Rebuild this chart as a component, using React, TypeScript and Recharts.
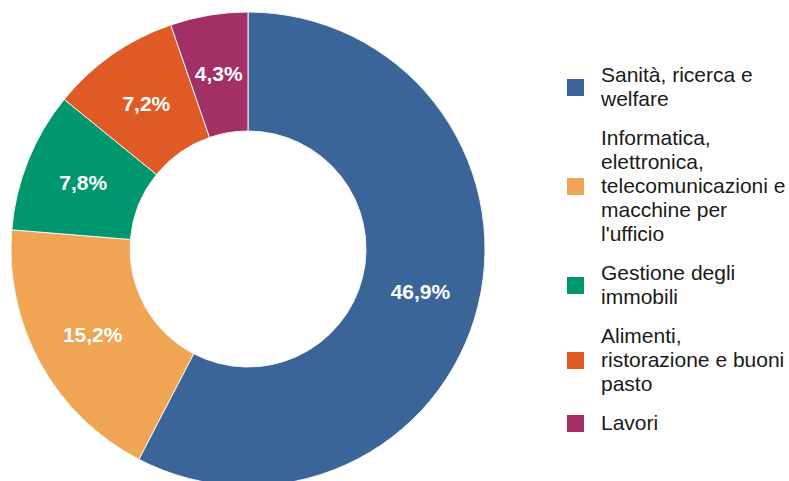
import React from "react";
import { PieChart, Pie, Cell, Legend } from "recharts";

const categories = [
  "Sanità, ricerca e welfare",
  "Informatica, elettronica, telecomunicazioni e macchine per l'ufficio",
  "Gestione degli immobili",
  "Alimenti, ristorazione e buoni pasto",
  "Lavori",
];
const values = [46.9, 15.2, 7.8, 7.2, 4.3];
const colors = ["#3b6598", "#efa553", "#00976f", "#df5a24", "#a22f66"];

const data = categories.map((name, i) => ({ name, value: values[i] }));

const RADIAN = Math.PI / 180;
const FONT = "'Liberation Sans', Arial, sans-serif";

const renderLabel = (props: any) => {
  const { cx, cy, midAngle, innerRadius, outerRadius, value } = props;
  const r = (innerRadius + outerRadius) / 2;
  const x = cx + r * Math.cos(-midAngle * RADIAN);
  const y = cy + r * Math.sin(-midAngle * RADIAN);
  return (
    <text
      x={x}
      y={y}
      fill="#ffffff"
      textAnchor="middle"
      dominantBaseline="central"
      fontSize={21}
      fontWeight="bold"
      fontFamily={FONT}
    >
      {value.toFixed(1).replace(".", ",")}%
    </text>
  );
};

const renderLegend = () => (
  <div style={{ fontFamily: FONT, fontSize: 21, color: "#1a1a1a" }}>
    {data.map((d, i) => (
      <div key={d.name} style={{ display: "flex", alignItems: "center", marginBottom: 15 }}>
        <div style={{ width: 17, height: 17, background: colors[i], flexShrink: 0, marginRight: 17 }} />
        <div style={{ width: 188, lineHeight: "24px" }}>{d.name}</div>
      </div>
    ))}
  </div>
);

export default function App() {
  return (
    <div style={{ position: "absolute", left: 0, top: 0 }}>
      <PieChart width={789} height={481} margin={{ top: 0, right: 0, bottom: 0, left: 0 }}>
        <Pie
          data={data}
          dataKey="value"
          nameKey="name"
          cx={248}
          cy={249}
          innerRadius={118}
          outerRadius={237}
          startAngle={90}
          endAngle={-270}
          stroke="#f4f4f4"
          strokeWidth={1}
          label={renderLabel}
          labelLine={false}
          isAnimationActive={false}
        >
          {data.map((d, i) => (
            <Cell key={d.name} fill={colors[i]} />
          ))}
        </Pie>
        <Legend
          content={renderLegend}
          wrapperStyle={{ left: 567, top: 63, width: 222, bottom: "auto" }}
        />
      </PieChart>
    </div>
  );
}
